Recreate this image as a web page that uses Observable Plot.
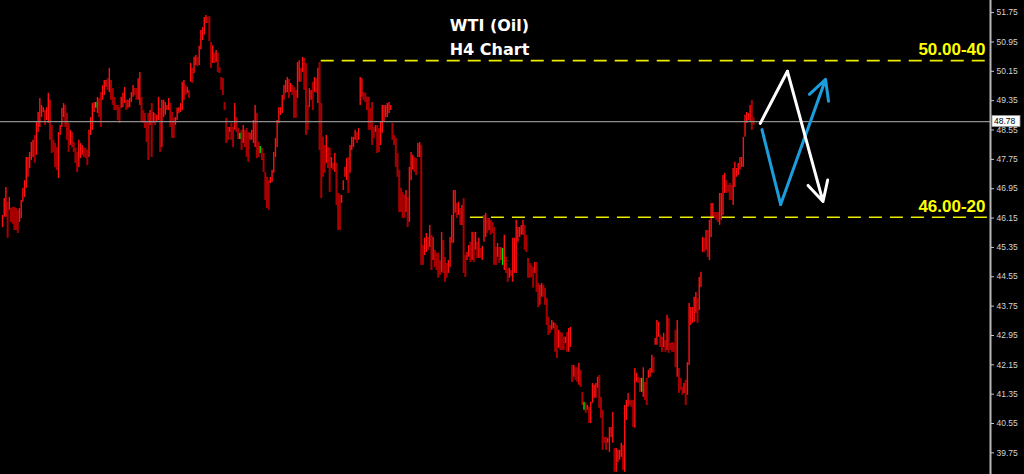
<!DOCTYPE html>
<html>
<head>
<meta charset="utf-8">
<script src="https://cdn.jsdelivr.net/npm/d3@7"></script>
<script src="https://cdn.jsdelivr.net/npm/@observablehq/plot@0.6"></script>
<style>
html, body { margin: 0; padding: 0; background: #000; }
#chart { width: 1024px; height: 474px; overflow: hidden; }
</style>
</head>
<body>
<div id="chart"></div>
<script>
// ---- data (H4 bars, high / low in USD) ----
const highs = [
46.22,46.68,46.98,46.58,46.71,46.41,46.44,46.44,46.41,46.36,
46.41,46.63,46.96,47.17,47.80,47.80,47.94,48.21,48.27,48.40,
48.76,49.03,49.41,49.22,49.16,49.08,49.16,49.55,49.36,48.67,
48.27,48.18,48.07,48.48,48.67,49.14,49.27,49.22,49.00,48.73,
48.54,48.48,48.21,48.05,47.94,48.27,48.18,48.13,48.05,48.05,
47.99,48.54,48.89,49.27,49.30,49.30,49.44,49.41,49.57,49.76,
49.90,49.90,49.95,50.23,49.90,49.68,49.44,49.22,49.22,49.16,
49.44,49.55,49.71,49.36,49.36,49.41,49.57,49.76,49.68,49.68,
49.95,50.12,49.44,49.08,49.00,48.76,49.00,49.08,49.27,49.03,
49.00,48.95,49.44,49.14,49.36,49.36,49.30,49.22,49.41,49.27,
49.03,48.87,48.89,49.14,49.16,49.27,49.85,49.90,49.76,49.71,
49.63,50.36,50.23,50.53,50.58,50.53,50.83,51.26,51.34,51.62,
51.67,51.62,51.64,50.94,50.85,50.64,50.72,50.64,50.25,49.98,
49.95,49.30,48.87,48.62,48.62,48.73,48.62,49.27,48.89,48.59,
48.46,48.54,48.67,48.54,48.59,48.48,48.46,48.54,48.81,49.22,
49.00,48.21,48.10,48.05,47.91,47.39,47.26,47.17,47.26,47.45,
47.94,48.32,48.81,49.16,49.16,49.49,49.76,49.90,49.98,49.93,
49.82,49.76,49.71,49.63,50.39,50.44,50.23,50.53,50.50,50.36,
49.22,49.68,49.63,49.85,49.98,49.95,50.23,50.39,49.27,48.35,
48.13,48.40,48.07,48.05,47.80,47.64,47.91,47.64,46.82,46.77,
46.77,47.17,47.53,47.77,47.80,48.13,48.35,48.35,48.54,48.48,
48.59,49.98,49.95,49.57,49.55,49.44,49.44,49.14,49.30,48.62,
48.67,48.67,48.59,48.76,49.22,49.22,49.22,49.27,49.30,49.22,
48.73,48.40,48.32,47.91,47.45,46.96,46.85,46.77,46.90,46.71,
47.53,47.94,47.86,47.80,47.77,48.18,48.21,48.13,45.40,45.60,
45.73,45.62,45.95,45.68,45.62,45.27,45.19,45.19,44.99,45.76,
45.54,45.08,44.91,44.99,45.62,46.22,46.90,46.90,46.55,46.58,
46.41,46.49,46.68,45.13,45.21,45.40,45.49,45.76,45.76,45.76,
45.49,45.60,45.32,45.38,46.22,46.28,46.14,46.14,46.09,46.03,
45.89,45.35,45.46,45.35,45.35,45.32,45.68,45.08,44.78,44.78,
44.72,45.60,45.60,46.09,45.89,45.89,45.95,46.09,45.95,45.68,
45.05,44.91,44.86,44.80,44.94,44.94,44.37,44.32,44.37,44.32,
44.24,43.96,43.44,43.22,43.36,43.31,43.28,43.22,43.09,43.03,
43.01,42.90,42.90,43.03,43.14,43.17,42.13,42.13,42.07,42.07,
42.19,42.00,41.40,41.13,41.10,41.04,40.99,41.13,41.64,41.59,
41.64,41.81,41.86,41.26,40.91,40.17,40.17,40.14,40.44,40.44,
40.85,39.87,39.87,39.82,39.82,40.01,39.95,41.04,41.18,41.37,
41.18,41.18,41.18,42.05,41.92,41.81,41.78,41.78,42.07,41.67,
41.78,42.00,42.05,42.41,42.35,42.87,43.36,43.31,42.95,42.90,
43.01,42.81,43.50,43.41,42.73,42.76,42.73,43.09,43.36,42.05,
41.78,41.53,41.64,41.73,42.21,43.82,43.71,43.71,43.99,44.12,
43.96,44.53,44.67,45.62,45.60,45.81,45.81,46.09,46.55,46.55,
46.30,46.30,46.30,46.82,46.82,47.31,47.37,47.17,47.04,47.09,
47.04,47.50,47.67,47.50,47.64,47.80,47.80,48.35,48.95,49.03,
49.00,49.22,49.36,48.89
];
const lows = [
45.89,46.17,46.17,45.60,46.36,46.03,45.98,45.81,45.81,45.73,
46.03,46.14,46.58,46.71,46.96,47.26,47.50,47.72,47.80,47.64,
47.86,48.48,48.62,48.89,49.03,48.67,48.81,48.73,48.27,47.91,
47.94,47.53,47.45,47.23,48.40,48.62,48.89,48.62,48.27,47.94,
48.13,48.07,47.94,47.64,47.39,47.53,47.77,47.86,47.80,47.77,
47.58,47.80,48.40,48.54,49.03,49.14,49.00,48.89,48.62,49.36,
49.49,49.71,49.63,49.57,49.36,49.22,49.08,49.08,48.81,48.73,
49.14,49.16,49.27,49.08,49.14,49.16,49.30,49.44,49.49,49.36,
49.36,49.22,48.76,48.73,48.59,48.21,47.72,48.67,47.80,48.73,
48.67,48.76,48.81,47.94,48.07,48.89,48.95,49.08,49.08,48.62,
48.32,48.32,48.67,48.81,49.00,49.03,49.08,49.36,49.49,49.55,
49.41,49.85,49.82,50.09,50.31,50.28,50.31,50.74,50.99,51.13,
51.45,51.45,50.96,50.23,50.36,50.36,50.39,50.12,50.09,49.63,
49.49,49.08,48.18,48.27,48.48,48.27,48.07,48.54,48.48,48.29,
48.29,47.99,48.18,48.07,47.80,47.67,48.27,48.27,48.18,48.07,
47.77,47.80,47.91,47.72,47.39,46.63,46.41,46.36,47.09,47.12,
47.37,47.80,48.07,48.73,48.95,49.00,49.36,49.55,49.57,49.41,
49.57,49.49,48.87,48.87,49.41,49.85,49.85,50.12,49.63,48.40,
48.54,49.16,49.36,49.08,49.57,49.55,49.27,47.99,46.68,47.26,
47.37,47.64,47.50,46.85,47.50,47.45,47.39,46.49,45.81,45.81,
46.55,46.90,47.26,47.17,46.82,47.37,47.99,48.07,48.27,48.18,
48.27,49.22,49.44,49.36,49.30,49.08,48.54,48.54,48.13,48.32,
48.48,47.91,47.94,48.13,48.46,48.76,48.89,48.89,49.00,49.08,
48.27,48.13,47.53,47.26,46.30,46.30,46.14,46.14,46.30,45.89,
46.03,47.17,47.45,47.39,47.31,47.80,47.80,44.86,44.86,45.13,
45.21,45.27,45.35,44.72,44.99,44.80,44.72,44.51,44.59,44.67,
44.64,44.40,44.51,44.64,44.80,45.46,45.46,46.28,46.14,46.22,
45.95,45.95,44.64,44.53,44.99,45.08,44.94,44.99,44.94,45.27,
45.05,45.05,45.05,44.99,45.49,45.62,45.73,45.81,45.68,45.73,
44.86,44.86,45.08,44.91,44.99,44.86,44.72,44.64,44.40,44.51,
44.56,44.40,44.64,44.64,45.49,45.62,45.68,45.68,45.27,45.21,
44.51,44.51,44.53,44.24,44.64,44.12,43.71,43.77,43.99,43.99,
43.77,43.22,42.95,43.01,43.09,43.14,42.49,42.32,42.60,42.54,
42.54,42.54,42.73,42.49,42.49,42.62,41.67,41.81,41.73,41.67,
41.59,41.53,41.04,40.91,40.83,40.91,40.55,40.55,41.10,41.24,
41.24,41.51,40.96,40.69,39.82,40.01,39.82,40.01,39.76,40.17,
40.01,39.22,39.22,39.49,39.55,39.63,39.27,39.22,40.63,40.99,
41.04,40.99,40.44,40.42,41.67,41.64,41.40,41.40,41.26,41.18,
41.04,41.78,41.81,41.92,41.92,42.68,42.68,42.90,42.62,42.49,
42.62,42.49,42.54,42.46,42.54,42.49,42.49,42.07,41.81,41.37,
41.45,41.32,41.37,41.04,41.32,42.13,43.22,43.28,43.31,43.55,
43.28,43.63,44.26,45.21,45.21,45.27,45.08,44.99,45.62,46.14,
46.14,46.09,46.03,45.95,46.09,46.22,46.82,46.82,46.85,46.63,
46.63,46.49,46.98,47.26,47.31,47.45,47.53,47.53,48.35,48.73,
48.81,48.76,48.54,48.67
];
const greenBars = [55, 140, 152, 295, 343, 377];       // bar indices drawn green
const priceTicks = [39.75, 40.55, 41.35, 42.15, 42.95, 43.75, 44.55, 45.35,
                    46.15, 46.95, 47.75, 48.55, 49.35, 50.15, 50.95, 51.75];
const lastPrice = 48.78;
const levelLabels = ["50.00-40", "46.00-20"];
const levelPrices = [50.44, 46.17];
const levelStartBars = [188, 276];
const titleLines = ["WTI (Oil)", "H4 Chart"];
// projected scenarios (bar index ahead, price)
const whiteBars = [447, 463, 484];
const whitePrices = [48.73, 50.15, 46.60];
const blueBars = [448, 459, 485.5];
const bluePrices = [48.56, 46.52, 49.93];

// ---- build tables ----
const bars = highs.map((h, i) => {
  const mid = (h + lows[i]) / 2;
  const prevMid = i > 0 ? (highs[i - 1] + lows[i - 1]) / 2 : mid;
  return {
    i, high: h, low: lows[i],
    kind: greenBars.includes(i) ? "green" : (mid >= prevMid ? "up" : "down")
  };
});
const levels = levelLabels.map((label, k) => ({label, price: levelPrices[k], start: levelStartBars[k]}));
const whitePath = whiteBars.map((b, k) => ({bar: b, price: whitePrices[k]}));
const bluePath = blueBars.map((b, k) => ({bar: b, price: bluePrices[k]}));

const xMax = 582.8;
const barColor = {up: "#ff1010", down: "#a80000", green: "#00e000"};

const chart = Plot.plot({
  width: 1024,
  height: 474,
  marginTop: 0,
  marginBottom: 0,
  marginLeft: 0,
  marginRight: 34,
  style: {background: "#000", color: "#ddd", fontFamily: "'Liberation Sans', Arial, sans-serif"},
  x: {domain: [-1.2, xMax], axis: null},
  y: {domain: [39.16, 52.08], axis: null},
  marks: [
    Plot.ruleX(bars.filter(d => d.kind === "down"), {x: "i", y1: "low", y2: "high", stroke: barColor.down, strokeWidth: 2}),
    Plot.ruleX(bars.filter(d => d.kind === "up"), {x: "i", y1: "low", y2: "high", stroke: barColor.up, strokeWidth: 1.4}),
    Plot.ruleX(bars.filter(d => d.kind === "green"), {x: "i", y1: "low", y2: "high", stroke: barColor.green, strokeWidth: 1.4}),
    Plot.ruleY([lastPrice], {y: d => d, stroke: "#8e8e8e", strokeWidth: 1.2}),
    Plot.ruleY(levels, {y: "price", x1: "start", x2: () => xMax, stroke: "#ecec00", strokeWidth: 1.6, strokeDasharray: "13,8"}),
    Plot.text(levels, {y: "price", text: "label", frameAnchor: "right", textAnchor: "end", dx: -5, dy: -11,
      fill: "#ffff00", fontWeight: "bold", fontSize: 17, fontFamily: "'Liberation Sans', Arial, sans-serif"}),
    // blue scenario
    Plot.line(bluePath.slice(0, 2), {x: "bar", y: "price", stroke: "#1c9ddc", strokeWidth: 3}),
    Plot.arrow([{a: bluePath[1], b: bluePath[2]}], {x1: d => d.a.bar, y1: d => d.a.price, x2: d => d.b.bar, y2: d => d.b.price,
      stroke: "#1c9ddc", strokeWidth: 3, headLength: 11, headAngle: 55}),
    // white scenario
    Plot.line(whitePath.slice(0, 2), {x: "bar", y: "price", stroke: "#ffffff", strokeWidth: 3}),
    Plot.arrow([{a: whitePath[1], b: whitePath[2]}], {x1: d => d.a.bar, y1: d => d.a.price, x2: d => d.b.bar, y2: d => d.b.price,
      stroke: "#ffffff", strokeWidth: 3, headLength: 11, headAngle: 55}),
    // title
    Plot.text([titleLines[0]], {frameAnchor: "top", dx: -6, dy: 19, fill: "#fff", fontWeight: "bold", fontSize: 16,
      fontFamily: "'DejaVu Sans', sans-serif"}),
    Plot.text([titleLines[1]], {frameAnchor: "top", dx: -6, dy: 43, fill: "#fff", fontWeight: "bold", fontSize: 16,
      fontFamily: "'DejaVu Sans', sans-serif"}),
    // right price axis
    Plot.frame({anchor: "right", stroke: "#b8b8b8", strokeWidth: 2}),
    Plot.axisY(priceTicks, {anchor: "right", tickSize: 3, tickPadding: 3, stroke: "#c8c8c8",
      tickFormat: d => d.toFixed(2), fill: "#d4d4d4", fontSize: 8.5})
  ]
});

document.getElementById("chart").appendChild(chart);

// current price tag on the axis
const svg = d3.select(chart);
const yPos = chart.scale("y").apply(lastPrice);
const xAxis = chart.scale("x").apply(xMax);
const tag = svg.append("g");
tag.append("rect").attr("x", xAxis + 2).attr("y", yPos - 5.5).attr("width", 28).attr("height", 11)
  .attr("fill", "#fff").attr("stroke", "#999").attr("stroke-width", 0.8);
tag.append("text").attr("x", xAxis + 4).attr("y", yPos + 3.2).attr("fill", "#000")
  .attr("text-anchor", "start")
  .attr("font-size", 8.5).attr("font-family", "'Liberation Sans', Arial, sans-serif").text(lastPrice.toFixed(2));
</script>
</body>
</html>
